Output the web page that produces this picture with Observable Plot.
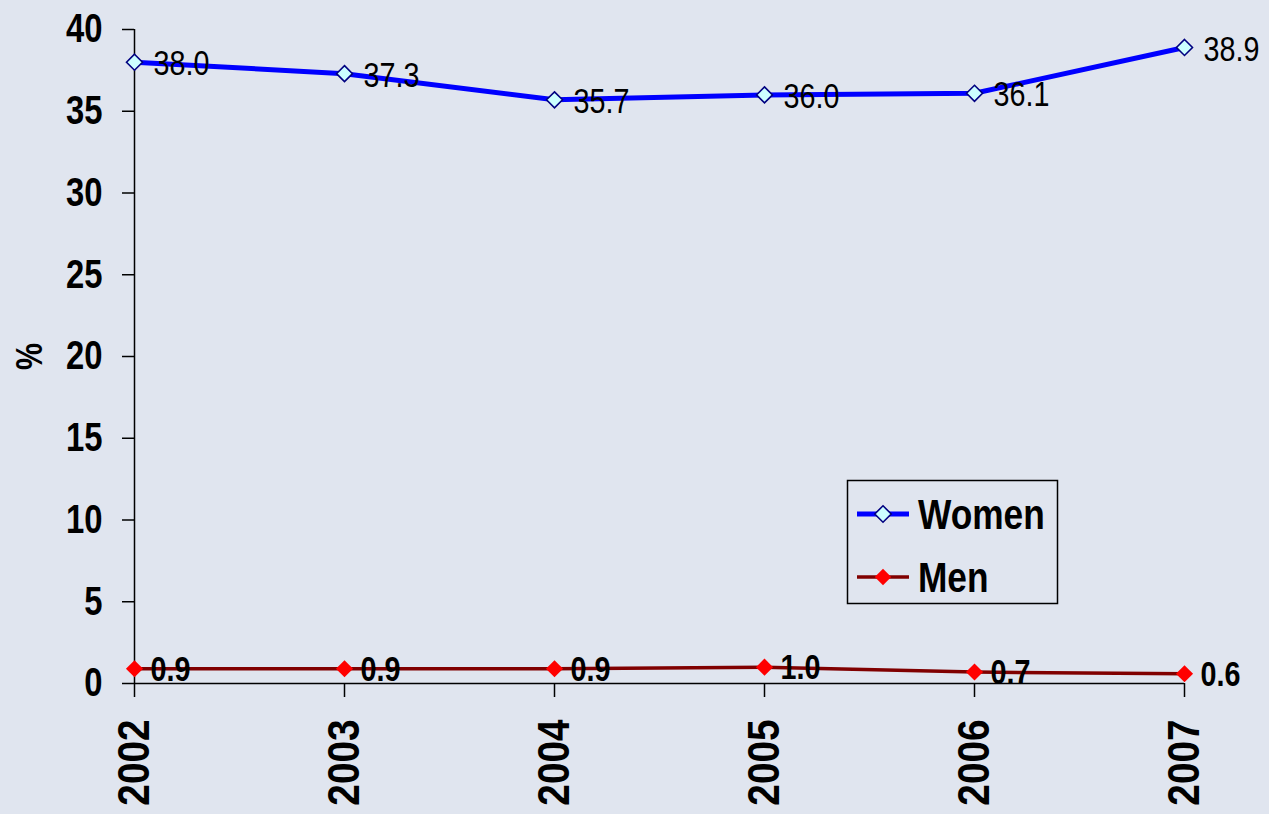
<!DOCTYPE html>
<html><head><meta charset="utf-8">
<script src="https://cdn.jsdelivr.net/npm/d3@7"></script>
<script src="https://cdn.jsdelivr.net/npm/@observablehq/plot@0.6"></script>
<style>
html,body{margin:0;padding:0;background:#e0e5ef;}
#chart{position:relative;width:1269px;height:814px;overflow:hidden;}
#chart svg{display:block;}
#legend{position:absolute;left:0;top:0;pointer-events:none;}
</style>
</head><body><div id="chart"></div>
<script>
// ---- data ----
const years = ["2002", "2003", "2004", "2005", "2006", "2007"];
const women = [38.0, 37.3, 35.7, 36.0, 36.1, 38.9];
const men = [0.9, 0.9, 0.9, 1.0, 0.7, 0.6];
const seriesNames = ["Women", "Men"];
const yTicks = [0, 5, 10, 15, 20, 25, 30, 35, 40];
const yLabel = "%";

// ---- font detection (Arial Narrow look-alike) ----
function w(font) {
  const c = document.createElement("canvas").getContext("2d");
  c.font = font; return c.measureText("0000 Women").width;
}
const narrowW = w("bold 100px 'Liberation Sans Narrow', monospace");
const regW = w("bold 100px 'Liberation Sans', monospace");
const hasNarrow = narrowW < regW * 0.9;
const F = hasNarrow ? "'Liberation Sans Narrow', 'Liberation Sans', Arial, sans-serif" : "'Liberation Sans', Arial, sans-serif";

const womenRows = years.map((y, i) => ({year: y, value: women[i], series: seriesNames[0]}));
const menRows = years.map((y, i) => ({year: y, value: men[i], series: seriesNames[1]}));
const fmt = d3.format(".1f");

const plot = Plot.plot({
  width: 1269,
  height: 814,
  marginLeft: 134,
  marginRight: 85,
  marginTop: 29,
  marginBottom: 131,
  style: {fontFamily: F, background: "#e0e5ef", color: "#000", overflow: "visible"},
  x: {type: "point", domain: years, padding: 0},
  y: {domain: [0, 40]},
  marks: [
    Plot.axisY({ticks: yTicks, tickSize: 12, tickPadding: 20, fontSize: 40, fontWeight: "bold",
      strokeWidth: 1.5, label: yLabel, labelAnchor: "center", labelArrow: "none", labelOffset: 119}),
    Plot.axisX({tickRotate: -90, tickSize: 14, tickPadding: 22, fontSize: 44, fontWeight: "bold",
      strokeWidth: 1.5, label: null}),
    Plot.ruleY([0], {stroke: "#000", strokeWidth: 1.5}),
    Plot.ruleX([years[0]], {y1: 0, y2: 40, stroke: "#000", strokeWidth: 1.5}),
    Plot.line(menRows, {x: "year", y: "value", stroke: "#800000", strokeWidth: 3.5}),
    Plot.line(womenRows, {x: "year", y: "value", stroke: "#0000ff", strokeWidth: 5}),
    Plot.dot(menRows, {x: "year", y: "value", symbol: "diamond2", r: 7.7, fill: "#ff0000", stroke: "none"}),
    Plot.dot(womenRows, {x: "year", y: "value", symbol: "diamond2", r: 7.2, fill: "#ccffff", stroke: "#000080", strokeWidth: 1.6}),
    Plot.text(womenRows, {x: "year", y: "value", text: d => fmt(d.value), dx: 19, dy: 2, textAnchor: "start",
      lineAnchor: "middle", fontSize: 35, fill: "#000"}),
    Plot.text(menRows, {x: "year", y: "value", text: d => fmt(d.value), dx: 16, dy: 1, textAnchor: "start",
      lineAnchor: "middle", fontSize: 35, fontWeight: "bold", fill: "#000"})
  ]
});
// make "%" label bold and sized
d3.select(plot).selectAll("text").filter(function(){ return this.textContent === yLabel; })
  .attr("font-size", 37).attr("font-weight", "bold");

const chart = document.getElementById("chart");
chart.appendChild(plot);

// ---- legend overlay ----
const lg = d3.select(chart).append("svg").attr("id", "legend").attr("width", 1269).attr("height", 814)
  .style("font-family", F);
lg.append("rect").attr("x", 847.5).attr("y", 480.5).attr("width", 210).attr("height", 123)
  .attr("fill", "none").attr("stroke", "#000").attr("stroke-width", 1.5);
const legendItems = [
  {name: seriesNames[0], line: "#0000ff", lw: 5, fill: "#ccffff", stroke: "#000080", cy: 514},
  {name: seriesNames[1], line: "#800000", lw: 3.5, fill: "#ff0000", stroke: "none", cy: 577}
];
const sym = d3.symbol(d3.symbolDiamond2, Math.PI * 7.4 * 7.4);
legendItems.forEach(it => {
  lg.append("line").attr("x1", 857).attr("x2", 909).attr("y1", it.cy).attr("y2", it.cy)
    .attr("stroke", it.line).attr("stroke-width", it.lw);
  lg.append("path").attr("d", sym()).attr("transform", `translate(883,${it.cy})`)
    .attr("fill", it.fill).attr("stroke", it.stroke).attr("stroke-width", 1.6);
  lg.append("text").attr("x", 918).attr("y", it.cy + 15).attr("font-size", 43)
    .attr("font-weight", "bold").attr("fill", "#000").text(it.name);
});

// ---- narrow the glyphs (Arial Narrow look) when no narrow face is installed ----
if (!hasNarrow) {
  d3.select(chart).selectAll("text").each(function() {
    const len = this.getComputedTextLength();
    if (len > 0) {
      const isYear = years.includes(this.textContent);
      const s = isYear ? 0.88 : 0.82;
      this.setAttribute("textLength", (len * s).toFixed(2));
      this.setAttribute("lengthAdjust", "spacingAndGlyphs");
    }
  });
}
</script>
</body></html>
